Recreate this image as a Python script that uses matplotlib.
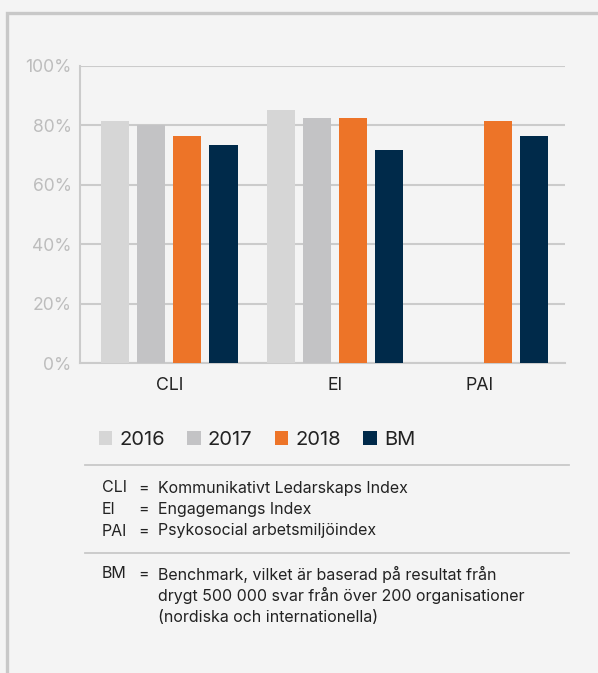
import numpy as np
import matplotlib
matplotlib.use("Agg")
import matplotlib.pyplot as plt
from matplotlib.patches import Patch, Rectangle
from matplotlib.lines import Line2D

# data
categories = ["CLI", "EI", "PAI"]
series = ["2016", "2017", "2018", "BM"]
v2016 = [81.5, 85.2, np.nan]
v2017 = [80.0, 82.5, np.nan]
v2018 = [76.4, 82.5, 81.5]
vbm = [73.4, 71.7, 76.4]
yticks = [0, 20, 40, 60, 80, 100]

abbr = ["CLI", "EI", "PAI"]
abbr_text = ["Kommunikativt Ledarskaps Index",
             "Engagemangs Index",
             "Psykosocial arbetsmiljöindex"]
bm_text = ["Benchmark, vilket är baserad på resultat från",
           "drygt 500 000 svar från över 200 organisationer",
           "(nordiska och internationella)"]

colors = ["#d6d6d6", "#c3c3c5", "#ed7428", "#002a4a"]
bg = "#f4f4f4"
grid_col = "#cbcbcb"

plt.rcParams['font.family'] = ['Inter', 'DejaVu Sans']

W, H = 598, 673
fig = plt.figure(figsize=(W / 100, H / 100), dpi=100, facecolor=bg)


def fx(px):
    return px / W


def fy(py):
    return 1 - py / H


# outer frame (right and bottom run off the picture)
fig.patches.append(Rectangle((fx(7), fy(700)), fx(700), fy(13) - fy(700),
                             transform=fig.transFigure, fill=False,
                             edgecolor="#c8c8c8", lw=2.4))

ax = fig.add_axes([fx(80), fy(363), fx(565) - fx(80), fy(65.7) - fy(363)])
ax.set_facecolor(bg)

# group centres (PAI sits a bit closer to EI in the original)
group_x = np.array([0.0, 1.0, 1.87])
bar_w = 0.169
step = 0.217
values = [v2016, v2017, v2018, vbm]
for i, (name, vals) in enumerate(zip(series, values)):
    ax.bar(group_x + (i - 1.5) * step, vals, width=bar_w, color=colors[i],
           label=name, zorder=3)

ax.set_xlim(-0.539, 2.383)
ax.set_ylim(0, 100)
ax.set_yticks(yticks)
ax.set_yticklabels([f"{t}%" for t in yticks])
ax.set_xticks(group_x)
ax.set_xticklabels(categories)
ax.yaxis.grid(True, color=grid_col, lw=1.5, zorder=1)
ax.set_axisbelow(True)
for s in ["top", "right"]:
    ax.spines[s].set_visible(False)
ax.spines["left"].set_color(grid_col)
ax.spines["bottom"].set_color(grid_col)
ax.spines["left"].set_linewidth(1.5)
ax.spines["bottom"].set_linewidth(1.5)
ax.tick_params(axis="both", length=0)
ax.tick_params(axis="y", labelsize=12.6, labelcolor="#bdbdbd", pad=6)
ax.tick_params(axis="x", labelsize=12.8, labelcolor="#222222", pad=10)

# legend
handles = [Patch(facecolor=c, edgecolor="none") for c in colors]
fig.legend(handles, series, loc="center", bbox_to_anchor=(fx(257), fy(440)),
           ncol=4, frameon=False, fontsize=14.5, handlelength=0.68,
           handleheight=0.68, handletextpad=0.35, columnspacing=1.1,
           labelcolor="#222222")

# separators
for yy in [465, 553]:
    fig.add_artist(Line2D([fx(85), fx(569)], [fy(yy), fy(yy)],
                          transform=fig.transFigure, color="#c8c8c8", lw=1.3))

# abbreviation notes
fs = 11.5
for k, (a, t) in enumerate(zip(abbr, abbr_text)):
    y = fy(488 + k * 21.5)
    fig.text(fx(102), y, a, fontsize=fs, va="center", color="#222222")
    fig.text(fx(138), y, "=", fontsize=fs, va="center", color="#222222")
    fig.text(fx(158), y, t, fontsize=fs, va="center", color="#222222")

fig.text(fx(102), fy(574), "BM", fontsize=fs, va="center", color="#222222")
fig.text(fx(138), fy(574), "=", fontsize=fs, va="center", color="#222222")
for k, t in enumerate(bm_text):
    fig.text(fx(158), fy(574 + k * 21.5), t, fontsize=fs, va="center",
             color="#222222")

fig.savefig("out.png", dpi=100, facecolor=bg)
